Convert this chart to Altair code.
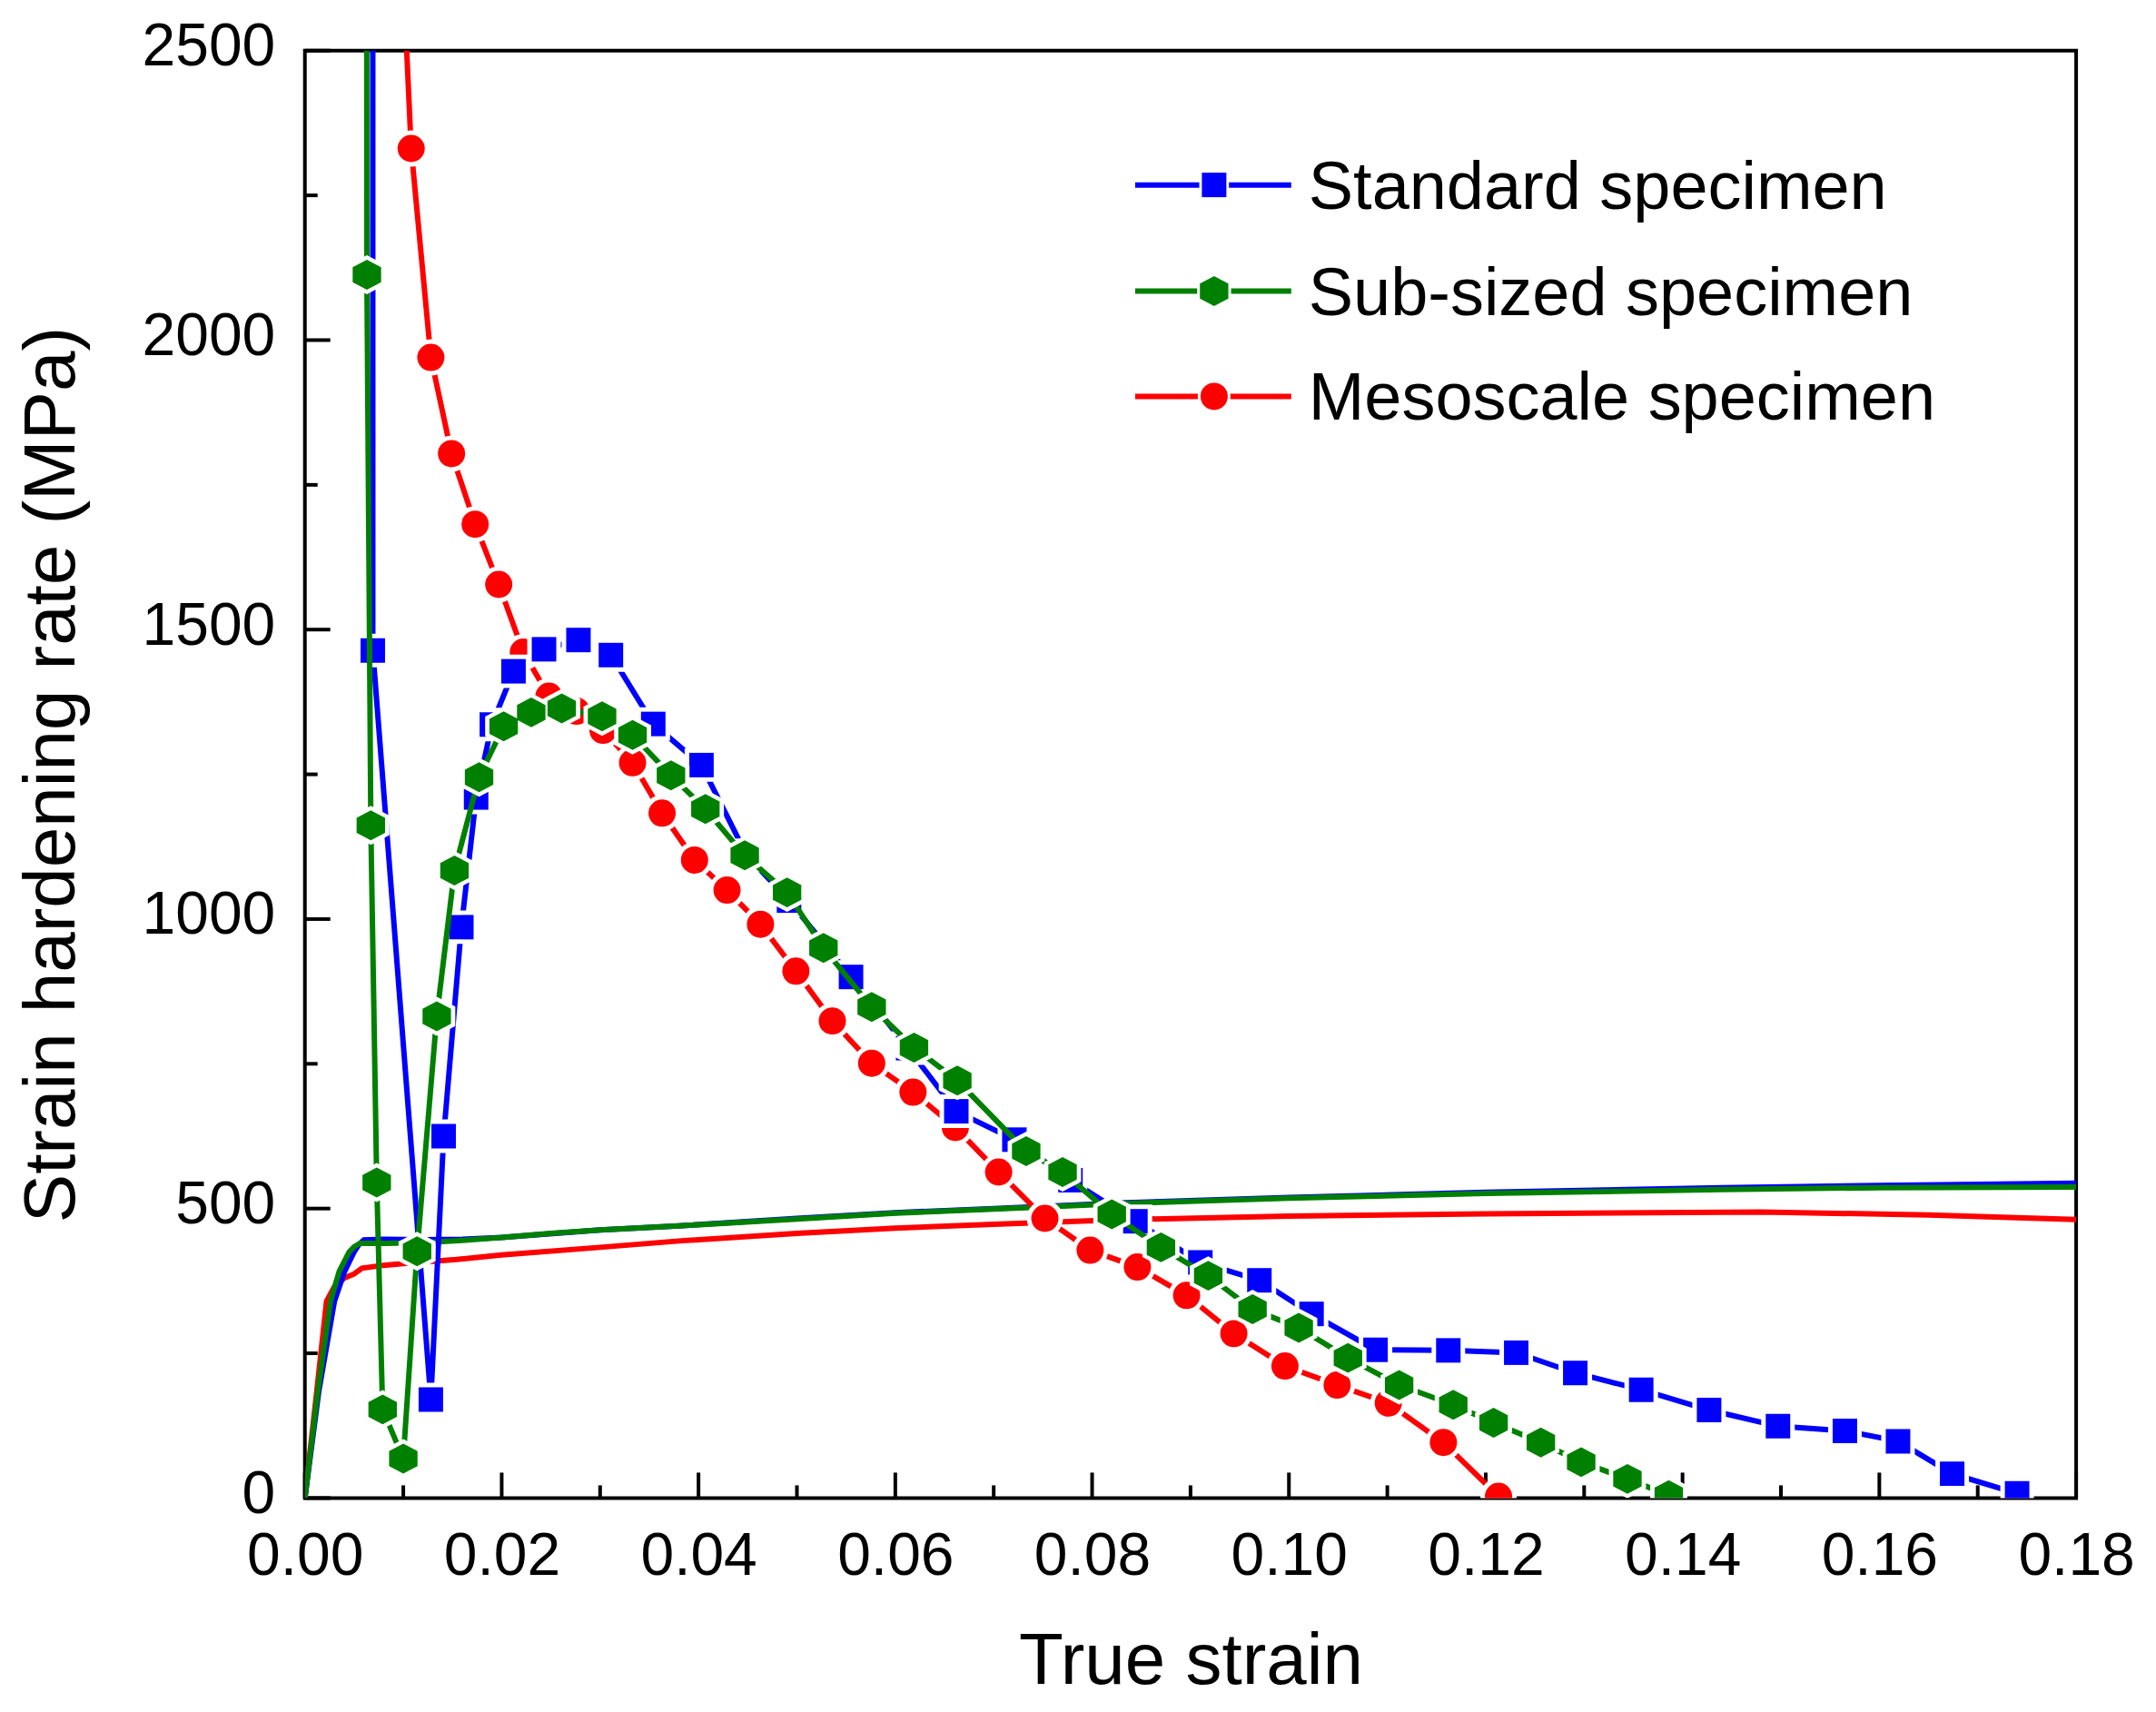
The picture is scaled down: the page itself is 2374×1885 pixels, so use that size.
import altair as alt
import pandas as pd

# ---------------- data ----------------
SERIES = ["Standard specimen", "Sub-sized specimen", "Mesoscale specimen"]
COLORS = ["#0000FF", "#008000", "#FF0000"]

# strain hardening rate (lines with symbols)
std_strain = [0.0069, 0.0069, 0.0128, 0.0141, 0.0159, 0.0174, 0.0190, 0.0212, 0.0243, 0.0278,
              0.0311, 0.0354, 0.0403, 0.0449, 0.0492, 0.0555, 0.0613, 0.0662, 0.0721, 0.0778,
              0.0844, 0.0910, 0.0970, 0.1023, 0.1088, 0.1162, 0.1231, 0.1291, 0.1358, 0.1427,
              0.1497, 0.1565, 0.1619, 0.1674, 0.1740]
std_rate = [6000, 1464, 170, 625, 986, 1210, 1336, 1428, 1466, 1482,
            1456, 1337, 1266, 1110, 1032, 900, 777, 668, 619, 549,
            478, 407, 376, 318, 256, 255, 251, 216, 187, 152,
            124, 116, 98, 42, 8]

sub_strain = [0.0062, 0.0063, 0.0067, 0.0073, 0.0079, 0.0100, 0.0114, 0.0134, 0.0152, 0.0177,
              0.0202, 0.0230, 0.0261, 0.0302, 0.0333, 0.0372, 0.0407, 0.0447, 0.0490, 0.0527,
              0.0576, 0.0619, 0.0663, 0.0733, 0.0770, 0.0820, 0.0870, 0.0918, 0.0963, 0.1010,
              0.1060, 0.1112, 0.1167, 0.1208, 0.1256, 0.1297, 0.1344, 0.1386]
sub_rate = [6000, 2113, 1162, 545, 153, 68, 426, 832, 1084, 1245,
            1333, 1357, 1364, 1350, 1318, 1248, 1190, 1110, 1046, 950,
            848, 778, 721, 599, 563, 490, 433, 384, 326, 294,
            242, 195, 161, 130, 96, 62, 33, 5]

meso_strain = [0.0090, 0.0108, 0.0128, 0.0149, 0.0173, 0.0197, 0.0222, 0.0248, 0.0276, 0.0303,
               0.0333, 0.0363, 0.0396, 0.0429, 0.0463, 0.0499, 0.0536, 0.0576, 0.0618, 0.0661,
               0.0705, 0.0752, 0.0798, 0.0846, 0.0896, 0.0944, 0.0996, 0.1049, 0.1101, 0.1157,
               0.1213]
meso_rate = [3000, 2331, 1970, 1804, 1682, 1578, 1461, 1385, 1359, 1326,
             1270, 1183, 1102, 1050, 991, 910, 824, 751, 701, 640,
             563, 483, 428, 399, 350, 284, 228, 195, 164, 96,
             3]

# true stress curves (plain lines)
std_flow_strain = [0, 0.0014, 0.0030, 0.0040, 0.0050, 0.0055, 0.0060, 0.0080, 0.0120, 0.0160,
                   0.0200, 0.0300, 0.0380, 0.0500, 0.0600, 0.0700, 0.0834, 0.1000, 0.1200, 0.1440,
                   0.1600, 0.1800]
std_flow_stress = [0, 183, 340, 390, 425, 438, 446, 447, 446, 447,
                   450, 463, 470, 483, 493, 500, 510, 519, 528, 536,
                   540, 544]

sub_flow_strain = [0, 0.0013, 0.0026, 0.0035, 0.0045, 0.0050, 0.0056, 0.0080, 0.0120, 0.0160,
                   0.0200, 0.0250, 0.0300, 0.0380, 0.0500, 0.0600, 0.0700, 0.0834, 0.1000, 0.1200,
                   0.1440, 0.1600, 0.1800]
sub_flow_stress = [0, 183, 340, 392, 425, 434, 440, 440, 441, 445,
                   450, 457, 463, 470, 482, 492, 499, 509, 518, 526,
                   533, 536, 537]

meso_flow_strain = [0, 0.0012, 0.0022, 0.0030, 0.0040, 0.0050, 0.0058, 0.0080, 0.0100, 0.0154,
                    0.0200, 0.0300, 0.0380, 0.0500, 0.0600, 0.0700, 0.0834, 0.1000, 0.1200, 0.1480,
                    0.1650, 0.1800]
meso_flow_stress = [0, 183, 340, 365, 380, 387, 397, 402, 405, 412,
                    420, 433, 444, 457, 466, 473, 481, 487, 491, 494,
                    489, 481]

x_major = [0.00, 0.02, 0.04, 0.06, 0.08, 0.10, 0.12, 0.14, 0.16, 0.18]
x_minor = [0.01, 0.03, 0.05, 0.07, 0.09, 0.11, 0.13, 0.15, 0.17]
y_major = [0, 500, 1000, 1500, 2000, 2500]
y_minor = [250, 750, 1250, 1750, 2250]

# ---------------- layout / style ----------------
W, H = 1952, 1595
FONT = "Liberation Sans"
HEX = "M0,-1 L0.95,-0.5 L0.95,0.5 L0,1 L-0.95,0.5 L-0.95,-0.5 Z"
SHAPES = ["square", HEX, "circle"]
SIZES = [729, 1089, 900]
HALO = [1369, 1849, 1600]
LW = 6

rate_sets = [(std_strain, std_rate), (sub_strain, sub_rate), (meso_strain, meso_rate)]
flow_sets = [(std_flow_strain, std_flow_stress), (sub_flow_strain, sub_flow_stress),
             (meso_flow_strain, meso_flow_stress)]

xs = alt.Scale(domain=[0, 0.18], nice=False, zero=False)
ys = alt.Scale(domain=[0, 2500], nice=False)

x_axis = alt.Axis(values=x_major, format=".2f", labelFont=FONT, labelFontSize=66,
                  labelColor="black", labelPadding=32, domain=False, ticks=False, tickSize=0,
                  grid=False, title="True strain", titleFont=FONT, titleFontSize=80,
                  titleFontWeight="normal", titleColor="black", titlePadding=44,
                  labelFlush=False, labelOverlap=False)
y_axis = alt.Axis(values=y_major, format="d", labelFont=FONT, labelFontSize=66,
                  labelColor="black", labelPadding=33, labelOffset=-4, domain=False,
                  ticks=False, tickSize=0,
                  grid=False, title="Strain hardening rate (MPa)", titleFont=FONT,
                  titleFontSize=80, titleFontWeight="normal", titleColor="black",
                  titlePadding=58, labelFlush=False, labelOverlap=False)


def X(field):
    return alt.X(f"{field}:Q", scale=xs, axis=x_axis)


def Y(field):
    return alt.Y(f"{field}:Q", scale=ys, axis=y_axis)


layers = []

# tick marks pointing inward
for vals, ln in [(x_major, 28), (x_minor, 14)]:
    layers.append(
        alt.Chart(pd.DataFrame({"v": vals})).mark_rule(color="black", strokeWidth=4)
        .encode(x=X("v"), y=alt.value(H), y2=alt.value(H - ln))
    )
for vals, ln in [(y_major, 28), (y_minor, 14)]:
    layers.append(
        alt.Chart(pd.DataFrame({"v": vals})).mark_rule(color="black", strokeWidth=4)
        .encode(y=Y("v"), x=alt.value(0), x2=alt.value(ln))
    )

# stress curves (red under blue under green)
for i in [2, 0, 1]:
    s, v = flow_sets[i]
    df = pd.DataFrame({"strain": s, "value": v, "order": range(len(s))})
    layers.append(
        alt.Chart(df).mark_line(color=COLORS[i], strokeWidth=LW, clip=True)
        .encode(x=X("strain"), y=Y("value"), order="order:Q")
    )

# strain-hardening curves with symbols
for i in [2, 0, 1]:
    s, v = rate_sets[i]
    df = pd.DataFrame({"strain": s, "value": v, "order": range(len(s))})
    base = alt.Chart(df)
    layers.append(
        base.mark_line(color=COLORS[i], strokeWidth=LW, clip=True)
        .encode(x=X("strain"), y=Y("value"), order="order:Q")
    )
    layers.append(
        base.mark_point(shape=SHAPES[i], size=HALO[i], filled=True, color="white",
                        opacity=1, clip=True)
        .encode(x=X("strain"), y=Y("value"))
    )
    layers.append(
        base.mark_point(shape=SHAPES[i], size=SIZES[i], filled=True, color=COLORS[i],
                        opacity=1, clip=True)
        .encode(x=X("strain"), y=Y("value"))
    )

# legend (drawn with the same mark styles)
LEG_X0, LEG_X1, LEG_SYM, LEG_TXT = 915, 1087, 1002, 1106
LEG_ROWS = [148, 265, 381]
for i, name in enumerate(SERIES):
    ldf = pd.DataFrame({"label": [name]})
    lb = alt.Chart(ldf)
    yy = LEG_ROWS[i]
    layers.append(lb.mark_rule(color=COLORS[i], strokeWidth=LW)
                  .encode(x=alt.value(LEG_X0), x2=alt.value(LEG_X1), y=alt.value(yy)))
    layers.append(lb.mark_point(shape=SHAPES[i], size=HALO[i] - 300, filled=True,
                                color="white", opacity=1)
                  .encode(x=alt.value(LEG_SYM), y=alt.value(yy)))
    layers.append(lb.mark_point(shape=SHAPES[i], size=SIZES[i], filled=True,
                                color=COLORS[i], opacity=1)
                  .encode(x=alt.value(LEG_SYM), y=alt.value(yy)))
    layers.append(lb.mark_text(font=FONT, fontSize=74, align="left", baseline="middle",
                               color="black")
                  .encode(x=alt.value(LEG_TXT), y=alt.value(yy + 4), text="label:N"))

chart = (
    alt.layer(*layers)
    .properties(width=W, height=H,
                autosize=alt.AutoSizeParams(type="none"),
                padding={"left": 328, "top": 47, "right": 80, "bottom": 232},
                background="white")
    .configure_view(stroke="black", strokeWidth=4)
)

chart.save("out.html", embed_options={"renderer": "svg", "actions": False})
